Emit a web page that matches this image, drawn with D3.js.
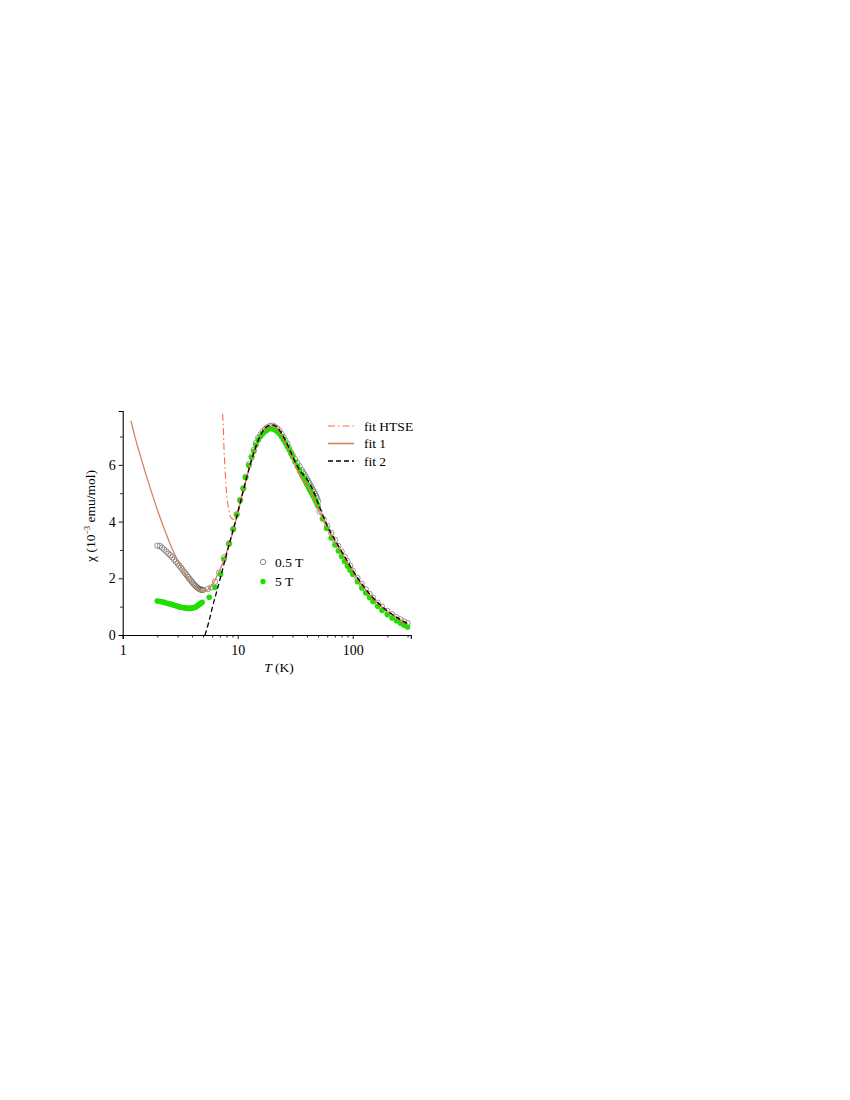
<!DOCTYPE html>
<html>
<head>
<meta charset="utf-8">
<script src="https://cdn.jsdelivr.net/npm/d3@7"></script>
<style>
  body { margin: 0; background: #fff; }
  svg { font-family: "Liberation Serif", "Times New Roman", serif; }
</style>
</head>
<body>
<svg id="chart" width="850" height="1100"></svg>
<script>
// ---- data ----
var t05 = [2.0,2.1,2.2,2.3,2.4,2.5,2.6,2.7,2.8,2.9,3.0,3.1,3.2,3.3,3.4,3.5,3.6,3.7,3.8,3.9,4.0,4.1,4.2,4.3,4.4,4.5,4.6,4.7,4.8,4.9,5.0,
  5.5,5.9,6.35,6.9,7.6,8.4,9.15,9.8,10.5,11.2,11.7,12.5,13.2,13.8,14.4,15.1,15.8,16.5,17.3,18,19,20,21,22,23,24,25,26,27,28,29,30,
  31.5,33,34.5,36,37,38,39,40,41,42,43,44,45,46,47,48,49,50,
  51.5,56,60,65,70,75,80,85,90,95,100,110,120,130,140,150,165,180,200,220,240,260,280,300];
var chi05 = [3.15,3.14,3.08,3.01,2.94,2.87,2.81,2.74,2.66,2.59,2.52,2.45,2.38,2.31,2.24,2.17,2.11,2.05,1.98,1.93,1.87,1.82,1.77,1.73,1.69,1.66,1.63,1.61,1.60,1.59,1.59,
  1.62,1.68,1.88,2.20,2.74,3.23,3.74,4.26,4.76,5.18,5.58,6.02,6.29,6.53,6.77,6.95,7.07,7.17,7.26,7.32,7.37,7.38,7.35,7.29,7.21,7.10,6.98,6.86,6.74,6.60,6.46,6.34,
  6.20,6.07,5.95,5.82,5.74,5.66,5.58,5.50,5.42,5.35,5.27,5.20,5.12,5.05,4.98,4.90,4.82,4.72,
  4.35,4.08,3.85,3.60,3.36,3.14,2.94,2.76,2.60,2.44,2.27,2.01,1.80,1.61,1.45,1.31,1.14,1.00,0.85,0.73,0.63,0.55,0.48,0.42];

var t5 = [2.0,2.1,2.2,2.3,2.4,2.5,2.6,2.7,2.8,2.9,3.0,3.1,3.2,3.3,3.4,3.5,3.6,3.7,3.8,3.9,4.0,4.1,4.2,4.3,4.4,4.5,4.6,4.7,4.8,4.9,
  5.66,6.35,7.1,7.6,8.4,9.15,9.8,10.5,11.2,11.7,12.5,13.2,13.8,14.4,15.1,15.8,16.5,17.3,18,19,20,21,22,23,24,25,26,27,28,29,30,
  31.5,33,34.5,36,37,38,39,40,41,42,43,44,45,46,47,48,49,50,
  54.6,59.3,65,70,75,80,85,90,95,100,110,120,130,140,150,165,180,200,220,240,260,280,300];
var chi5 = [1.20,1.19,1.17,1.15,1.13,1.11,1.09,1.07,1.05,1.03,1.01,1.00,0.98,0.97,0.96,0.95,0.95,0.94,0.94,0.94,0.95,0.96,0.97,0.99,1.01,1.04,1.07,1.10,1.13,1.15,
  1.33,1.68,2.14,2.67,3.21,3.72,4.24,4.74,5.16,5.55,5.98,6.25,6.48,6.70,6.88,7.00,7.10,7.18,7.23,7.27,7.27,7.24,7.18,7.10,7.00,6.89,6.77,6.65,6.53,6.41,6.29,
  6.11,5.95,5.80,5.66,5.57,5.48,5.40,5.31,5.23,5.15,5.07,5.00,4.92,4.85,4.77,4.70,4.62,4.55,
  4.10,3.76,3.42,3.18,2.96,2.77,2.59,2.43,2.28,2.14,1.88,1.66,1.48,1.32,1.18,1.01,0.87,0.72,0.60,0.50,0.42,0.34,0.28];

var tHtse = [7.4,7.5,7.6,7.8,8.0,8.3,8.6,8.9,9.2,9.6,10,10.5,11,12,13,14,15,16,17,18,19,20,22,24,26,28,30,35,40,45,50,60,70,80,90,100,120,140,160,180,200,230,260,300];
var chiHtse = [7.80,7.30,6.60,5.70,5.00,4.50,4.20,4.10,4.08,4.15,4.38,4.75,5.00,5.58,6.09,6.51,6.84,7.08,7.23,7.33,7.38,7.38,7.28,7.07,6.80,6.52,6.24,5.62,5.30,4.86,4.46,3.80,3.30,2.90,2.56,2.24,1.76,1.42,1.17,0.98,0.83,0.66,0.52,0.36];

var tFit1 = [1.18,1.28,1.41,1.56,1.73,1.91,2.11,2.38,2.68,3.15,3.63,4.08,4.52,4.89,5.2,5.6,6.13,6.5,7.0,7.5,8.0,9.0,10,11,12,13,14,15,16,17,18,19,20,22,24,26,28,30,35,40,45,50,55,60,70,80,90,100,120,140,160,180,200,230,260,300];
var chiFit1 = [7.55,6.98,6.38,5.78,5.20,4.66,4.15,3.58,3.06,2.47,2.03,1.74,1.58,1.52,1.54,1.63,1.82,2.02,2.30,2.58,2.90,3.58,4.28,4.98,5.57,6.08,6.50,6.83,7.07,7.22,7.32,7.37,7.37,7.27,7.06,6.78,6.50,6.22,5.60,5.30,4.85,4.45,4.10,3.80,3.30,2.90,2.56,2.25,1.76,1.42,1.17,0.98,0.83,0.66,0.52,0.36];

var tFit2 = [5.2,5.6,6.0,6.5,7.0,7.5,8.0,8.5,9.0,10,11,12,13,14,15,16,17,18,19,20,22,24,26,28,30,35,40,45,50,55,60,70,80,90,100,120,140,160,180,200,230,260,300];
var chiFit2 = [0,0.45,0.95,1.47,1.95,2.42,2.85,3.25,3.62,4.30,4.97,5.57,6.08,6.50,6.84,7.09,7.25,7.35,7.40,7.41,7.32,7.12,6.86,6.58,6.30,5.78,5.50,5.12,4.65,4.22,3.86,3.36,2.95,2.60,2.28,1.80,1.45,1.20,1.00,0.85,0.68,0.54,0.40];

var xMajor = [1, 10, 100];
var xMinor = [2,3,4,5,6,7,8,9,20,30,40,50,60,70,80,90,200,300];
var yMajor = [0, 2, 4, 6];
var yMinor = [1, 3, 5, 7];

var fitNames = ["fit HTSE", "fit 1", "fit 2"];
var fieldNames = ["0.5 T", "5 T"];

// ---- layout ----
var svg = d3.select("#chart");
var x = d3.scaleLog().domain([1, 320]).range([122.7, 410.8]);
var y = d3.scaleLinear().domain([0, 7.9]).range([635, 411]);

var cHtse = "#ff6a3a", cFit1 = "#d4845c", cGreen = "#22dd00";

function pts(ts, vs) { return ts.map(function(t, i) { return [t, vs[i]]; }); }

// axes
var gx = svg.append("g").attr("transform", "translate(0,635)");
gx.call(d3.axisBottom(x).tickValues(xMajor).tickSize(4).tickFormat(d3.format("d")));
var gxm = svg.append("g").attr("transform", "translate(0,635)");
gxm.call(d3.axisBottom(x).tickValues(xMinor).tickSize(2.5).tickFormat(""));
var gy = svg.append("g").attr("transform", "translate(122.7,0)");
gy.call(d3.axisLeft(y).tickValues(yMajor).tickSize(4).tickFormat(d3.format("d")));
var gym = svg.append("g").attr("transform", "translate(122.7,0)");
gym.call(d3.axisLeft(y).tickValues(yMinor).tickSize(2.5).tickFormat(""));

svg.selectAll(".domain").attr("stroke", "#000").attr("stroke-width", 1.1);
gxm.select(".domain").remove();
gym.select(".domain").remove();
svg.selectAll(".tick line").attr("stroke", "#000").attr("stroke-width", 0.9);
svg.selectAll(".tick text").attr("font-family", "Liberation Serif").attr("font-size", 14).attr("fill", "#000");
gx.selectAll(".tick text").attr("dy", "0.9em");

// axis titles
var xt = svg.append("text").attr("x", 279).attr("y", 672).attr("text-anchor", "middle").attr("font-size", 13.5);
xt.append("tspan").attr("font-style", "italic").text("T");
xt.append("tspan").text(" (K)");

var yt = svg.append("text").attr("transform", "translate(95,516) rotate(-90)").attr("text-anchor", "middle").attr("font-size", 13.5);
yt.append("tspan").text("χ (10");
yt.append("tspan").attr("font-size", 8).attr("dy", -5).text("−3");
yt.append("tspan").attr("dy", 5).text(" emu/mol)");

// data markers
svg.append("g").selectAll("circle").data(pts(t05, chi05)).join("circle")
  .attr("cx", function(d) { return x(d[0]); })
  .attr("cy", function(d) { return y(d[1]); })
  .attr("r", 2.7)
  .attr("fill", "none")
  .attr("stroke", "#555")
  .attr("stroke-width", 0.6);

svg.append("g").selectAll("circle").data(pts(t5, chi5)).join("circle")
  .attr("cx", function(d) { return x(d[0]); })
  .attr("cy", function(d) { return y(d[1]); })
  .attr("r", 2.8)
  .attr("fill", cGreen);

// fit curves
var line = d3.line().x(function(d) { return x(d[0]); }).y(function(d) { return y(d[1]); }).curve(d3.curveMonotoneX);

svg.append("path").datum(pts(tFit1, chiFit1)).attr("d", line)
  .attr("fill", "none").attr("stroke", cFit1).attr("stroke-width", 1.3);
svg.append("path").datum(pts(tHtse, chiHtse)).attr("d", line)
  .attr("fill", "none").attr("stroke", cHtse).attr("stroke-width", 1.1)
  .attr("stroke-dasharray", "7,3,1.5,3");
svg.append("path").datum(pts(tFit2, chiFit2)).attr("d", line)
  .attr("fill", "none").attr("stroke", "#000").attr("stroke-width", 1.3)
  .attr("stroke-dasharray", "5,3");

// legend for fits
var fitStyles = [
  { stroke: cHtse, dash: "7,3,1.5,3", w: 1.1 },
  { stroke: cFit1, dash: null, w: 1.6 },
  { stroke: "#000", dash: "5,3", w: 1.3 }
];
var lg = svg.append("g");
fitNames.forEach(function(name, i) {
  var yy = 426 + i * 17.5;
  lg.append("line").attr("x1", 328).attr("x2", 354).attr("y1", yy).attr("y2", yy)
    .attr("stroke", fitStyles[i].stroke).attr("stroke-width", fitStyles[i].w)
    .attr("stroke-dasharray", fitStyles[i].dash);
  lg.append("text").attr("x", 364).attr("y", yy + 4.5).attr("font-size", 13.5).text(name);
});

// legend for fields
var lg2 = svg.append("g");
fieldNames.forEach(function(name, i) {
  var yy = 562 + i * 19.5;
  var c = lg2.append("circle").attr("cx", 263).attr("cy", yy).attr("r", 2.7);
  if (i === 0) c.attr("fill", "none").attr("stroke", "#555").attr("stroke-width", 0.7);
  else c.attr("fill", cGreen);
  lg2.append("text").attr("x", 275).attr("y", yy + 4.5).attr("font-size", 13.5).text(name);
});
</script>
</body>
</html>
